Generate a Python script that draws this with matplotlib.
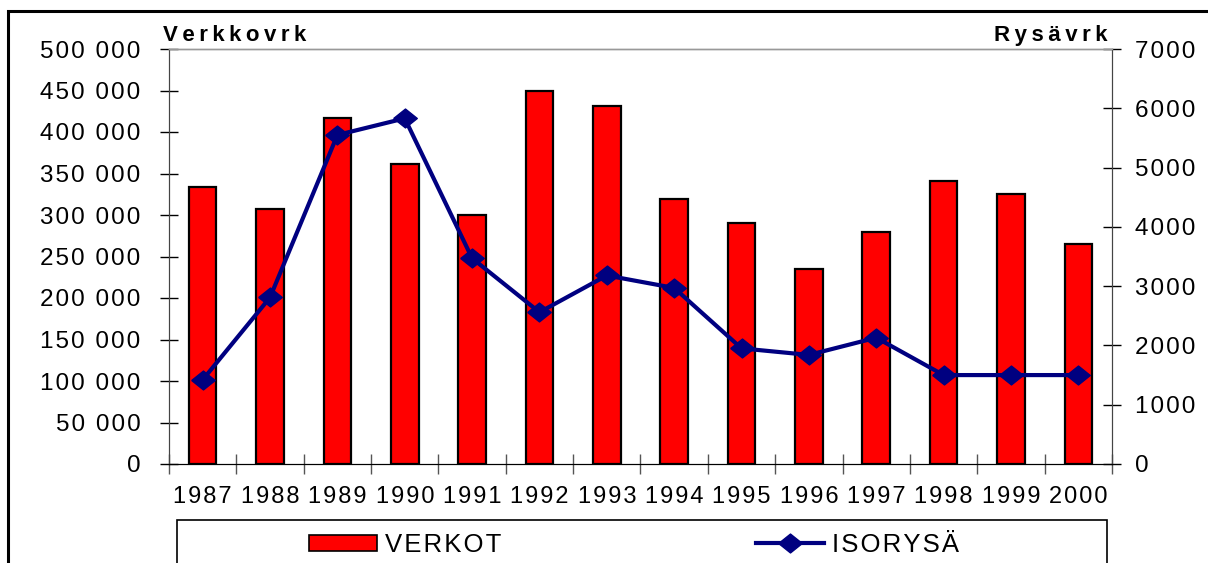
import matplotlib.pyplot as plt
from matplotlib.lines import Line2D
from matplotlib.patches import Patch, Rectangle

years = ['1987', '1988', '1989', '1990', '1991', '1992', '1993',
         '1994', '1995', '1996', '1997', '1998', '1999', '2000']
verkot = [334000, 307000, 417000, 361000, 300000, 449000, 431000,
          319000, 290000, 235000, 280000, 341000, 325000, 265000]
isorysa = [1420, 2810, 5550, 5830, 3470, 2560, 3180,
           2970, 1950, 1840, 2130, 1500, 1500, 1500]
left_ticks = list(range(0, 500001, 50000))
right_ticks = list(range(0, 7001, 1000))

HS = '\u200a'
NAVY = '#000080'
DIAMOND = [(-1, 0), (0, 0.8), (1, 0), (0, -0.8), (-1, 0)]


def spaced(s, sep=HS):
    return sep.join(s)


def thousands(v):
    s = f'{v:,}'
    return HS.join(s).replace(HS + ',' + HS, HS + ' ' + HS)


plt.rcParams['font.family'] = ['Liberation Sans', 'DejaVu Sans']

fig = plt.figure(figsize=(12.08, 5.63), dpi=100)
ax = fig.add_axes([169 / 1208, 1 - 464 / 563, (1112 - 169) / 1208, (464 - 49) / 563])
ax2 = ax.twinx()

x = list(range(len(years)))
ax.bar(x, verkot, width=0.41, color='#ff0000', edgecolor='black', linewidth=1.6, zorder=2)
ax2.plot(x, isorysa, color=NAVY, linewidth=3, marker=DIAMOND, markersize=17, zorder=3)

ax.set_xlim(-0.5, len(years) - 0.5)
ax.set_ylim(0, 500000)
ax2.set_ylim(0, 7000)

# x ticks at category boundaries, labels in the middle
ax.set_xticks([i - 0.5 for i in range(len(years) + 1)])
ax.set_xticklabels([])
ax.set_xticks(x, minor=True)
ax.set_xticklabels([spaced(y) for y in years], minor=True)
ax.tick_params(axis='x', which='major', direction='inout', length=15, width=1, color='#555555')
ax.tick_params(axis='x', which='minor', length=0, pad=16, labelsize=17)

ax.set_yticks(left_ticks)
ax.set_yticklabels([thousands(v) for v in left_ticks])
ax.tick_params(axis='y', direction='inout', length=13, width=1, pad=14, labelsize=17.5)
ax2.set_yticks(right_ticks)
ax2.set_yticklabels([spaced(str(v)) for v in right_ticks])
ax2.tick_params(axis='y', direction='inout', length=13, width=1, pad=10, labelsize=17.5)

for a in (ax, ax2):
    a.spines['top'].set_color('#999999')
    a.spines['top'].set_linewidth(1)
    a.spines['left'].set_color('#444444')
    a.spines['right'].set_color('#444444')
    a.spines['bottom'].set_color('black')
ax.set_zorder(ax2.get_zorder() - 1)
ax2.patch.set_visible(False)

ax.text(-6 / 943, 1 + 8 / 415, spaced('Verkkovrk', '\u2009'), transform=ax.transAxes,
        ha='left', va='baseline', fontsize=16, fontweight='bold')
ax2.text(1.0 - 5 / 943, 1 + 8 / 415, spaced('Rysävrk', '\u2009'), transform=ax2.transAxes,
         ha='right', va='baseline', fontsize=16, fontweight='bold')

# legend box (cut off by the figure bottom)
fig.patches.append(Rectangle((177 / 1208, -0.1), (1107 - 177) / 1208, (563 - 520) / 563 + 0.1,
                             transform=fig.transFigure, facecolor='white',
                             edgecolor='black', linewidth=1.2))
handles = [Patch(facecolor='#ff0000', edgecolor='black', linewidth=1.2),
           Line2D([], [], color=NAVY, linewidth=3, marker=DIAMOND, markersize=17)]
fig.legend(handles, [spaced('VERKOT'), spaced('ISORYSÄ')], ncol=2, frameon=False,
           loc='center left', bbox_to_anchor=(309 / 1208, 1 - 545 / 563),
           fontsize=18.5, handlelength=2.65, handleheight=0.6, handletextpad=0.31,
           columnspacing=9.9, borderpad=0, borderaxespad=0)

# outer border
fig.patches.append(Rectangle((8 / 1208, -0.1), 1.2, (563 - 11) / 563 + 0.1,
                             transform=fig.transFigure, fill=False,
                             edgecolor='black', linewidth=2.2))

fig.savefig('out.png', dpi=100)
